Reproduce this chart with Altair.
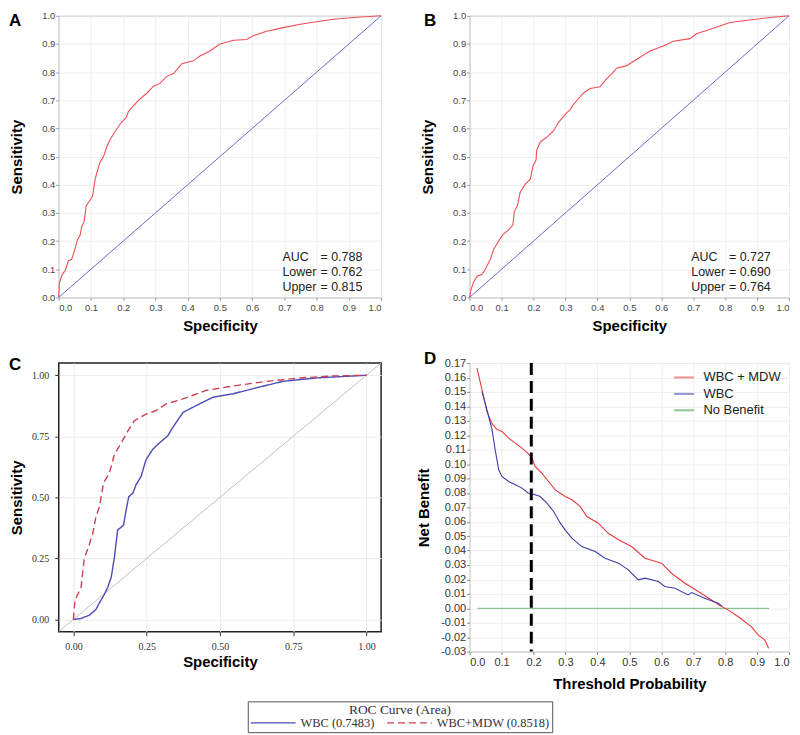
import altair as alt
import pandas as pd

# ---------------- Panel A data ----------------
A_X = [0, 0.002, 0.01, 0.02, 0.03, 0.04, 0.05, 0.058, 0.066, 0.071, 0.079, 0.085, 0.097, 0.105,
       0.113, 0.12, 0.128, 0.139, 0.149, 0.159, 0.175, 0.19, 0.21, 0.216, 0.232, 0.247, 0.273,
       0.294, 0.314, 0.335, 0.356, 0.382, 0.418, 0.438, 0.469, 0.50, 0.542, 0.583, 0.604, 0.645,
       0.697, 0.749, 0.79, 0.852, 0.914, 1.0]
A_Y = [0, 0.05, 0.08, 0.095, 0.13, 0.135, 0.17, 0.205, 0.22, 0.25, 0.27, 0.325, 0.345, 0.36,
       0.42, 0.45, 0.48, 0.50, 0.535, 0.56, 0.59, 0.615, 0.64, 0.66, 0.68, 0.70, 0.725,
       0.75, 0.76, 0.785, 0.795, 0.83, 0.84, 0.857, 0.875, 0.90, 0.913, 0.916, 0.93, 0.945,
       0.958, 0.97, 0.977, 0.988, 0.994, 1.0]
A_STATS = ["= 0.788", "= 0.762", "= 0.815"]

# ---------------- Panel B data ----------------
B_X = [0, 0.004, 0.0125, 0.023, 0.039, 0.049, 0.065, 0.075, 0.091, 0.104, 0.122, 0.135, 0.14,
       0.15, 0.158, 0.174, 0.19, 0.198, 0.208, 0.21, 0.221, 0.242, 0.263, 0.278, 0.299, 0.315,
       0.325, 0.356, 0.377, 0.408, 0.429, 0.445, 0.46, 0.492, 0.523, 0.565, 0.606, 0.638, 0.69,
       0.71, 0.763, 0.815, 0.877, 0.94, 1.0]
B_Y = [0, 0.027, 0.055, 0.075, 0.082, 0.10, 0.136, 0.17, 0.20, 0.223, 0.24, 0.257, 0.304,
       0.327, 0.373, 0.402, 0.42, 0.465, 0.488, 0.523, 0.552, 0.569, 0.592, 0.621, 0.65, 0.667,
       0.685, 0.725, 0.742, 0.748, 0.777, 0.794, 0.814, 0.823, 0.846, 0.875, 0.893, 0.91, 0.919,
       0.936, 0.956, 0.976, 0.985, 0.994, 1.0]
B_STATS = ["= 0.727", "= 0.690", "= 0.764"]

STAT_NAMES = ["AUC", "Lower", "Upper"]
STAT_Y = [0.142, 0.090, 0.038]
STAT_NAME_X = [0.694, 0.694, 0.694]
STAT_VAL_X = [0.812, 0.812, 0.812]
TICKS_AB = [0, 0.1, 0.2, 0.3, 0.4, 0.5, 0.6, 0.7, 0.8, 0.9, 1.0]
DIAG = [0, 1]

# ---------------- Panel C data ----------------
C_MDW_X = [0, 0.005, 0.015, 0.026, 0.037, 0.055, 0.066, 0.077, 0.089, 0.103, 0.123, 0.14, 0.157,
           0.186, 0.208, 0.248, 0.282, 0.317, 0.374, 0.453, 0.544, 0.658, 0.772, 0.886, 1.0]
C_MDW_Y = [0, 0.076, 0.103, 0.131, 0.248, 0.31, 0.352, 0.421, 0.462, 0.559, 0.60, 0.676, 0.71,
           0.772, 0.814, 0.841, 0.855, 0.883, 0.903, 0.938, 0.956, 0.975, 0.989, 0.997, 1.0]
C_WBC_X = [0, 0.026, 0.055, 0.077, 0.089, 0.103, 0.117, 0.129, 0.14, 0.151, 0.171, 0.18, 0.189,
           0.203, 0.214, 0.231, 0.248, 0.271, 0.288, 0.322, 0.339, 0.374, 0.408, 0.476, 0.544,
           0.636, 0.715, 0.829, 1.0]
C_WBC_Y = [0, 0.004, 0.018, 0.041, 0.069, 0.097, 0.131, 0.172, 0.255, 0.366, 0.386, 0.448, 0.503,
           0.517, 0.552, 0.586, 0.655, 0.697, 0.717, 0.752, 0.786, 0.848, 0.869, 0.91, 0.924,
           0.952, 0.975, 0.989, 1.0]
C_SERIES = ["WBC (0.7483)", "WBC+MDW (0.8518)"]
C_DIAG = [-0.05, 1.05]
TICKS_C = [0, 0.25, 0.5, 0.75, 1.0]

# ---------------- Panel D data ----------------
D_MDW_X = [0.023, 0.0385, 0.054, 0.07, 0.085, 0.101, 0.122, 0.143, 0.164, 0.184, 0.195, 0.205,
           0.226, 0.247, 0.268, 0.299, 0.32, 0.346, 0.367, 0.403, 0.434, 0.466, 0.507, 0.549,
           0.601, 0.632, 0.674, 0.716, 0.757, 0.789, 0.809, 0.84, 0.882, 0.903, 0.924, 0.936]
D_MDW_Y = [0.1665, 0.1515, 0.1365, 0.128, 0.124, 0.1226, 0.118, 0.1145, 0.111, 0.107, 0.104,
           0.0983, 0.0937, 0.0879, 0.0821, 0.0775, 0.0752, 0.0706, 0.0636, 0.059, 0.052, 0.0475,
           0.0428, 0.0347, 0.0313, 0.0243, 0.0174, 0.0116, 0.0058, 0.0012, -0.0011, -0.0057,
           -0.0127, -0.0184, -0.0219, -0.0277]
D_WBC_X = [0.0385, 0.054, 0.07, 0.08, 0.091, 0.101, 0.122, 0.143, 0.164, 0.184, 0.205, 0.221,
           0.242, 0.263, 0.284, 0.299, 0.32, 0.351, 0.393, 0.424, 0.466, 0.497, 0.528, 0.549,
           0.591, 0.611, 0.643, 0.684, 0.695, 0.736, 0.778, 0.79]
D_WBC_Y = [0.1503, 0.1377, 0.1238, 0.1099, 0.096, 0.0914, 0.0879, 0.0856, 0.0833, 0.0798,
           0.0787, 0.0775, 0.0729, 0.0671, 0.059, 0.0544, 0.0486, 0.0428, 0.0394, 0.0347,
           0.0313, 0.0266, 0.0197, 0.0209, 0.0186, 0.0151, 0.0139, 0.0093, 0.0109, 0.007,
           0.0035, 0.0015]
D_NONE_X = [0.025, 0.9375]
D_NONE_Y = [0.0, 0.0]
D_SERIES = ["WBC + MDW", "WBC", "No Benefit"]
D_THRESH = [0.193]
TICKS_DX = [0, 0.1, 0.2, 0.3, 0.4, 0.5, 0.6, 0.7, 0.8, 0.9, 1.0]
TICKS_DY = [round(-0.03 + 0.01 * k, 2) for k in range(21)]

SANS = "Liberation Sans"
SERIF = "Liberation Serif"


def letter(t, dx, dy):
    return alt.TitleParams(t, anchor="start", frame="group", orient="top", dx=dx, dy=dy,
                           offset=0, baseline="alphabetic", font=SANS, fontSize=17,
                           fontWeight="bold", color="#000")


def roc_panel(fx, fy, stats, title, dx, w, h, key):
    xs = alt.Scale(domain=[0, 1], nice=False, zero=False)
    ys = alt.Scale(domain=[0, 1], nice=False, zero=False)
    xaxis = alt.Axis(values=TICKS_AB, tickCount=40, format=".1f", labelFont=SANS,
                     labelFontSize=9.5, labelColor="#444", tickSize=3, tickColor="#999",
                     labelPadding=2, labelOverlap=False, domain=False, grid=True,
                     gridColor="#eeeeee", titleFont=SANS, titleFontSize=15,
                     titleFontWeight="bold", titleColor="#000", titlePadding=7)
    yaxis = alt.Axis(values=TICKS_AB, tickCount=40, format=".1f", labelFont=SANS,
                     labelFontSize=9.5, labelColor="#444", tickSize=3, tickColor="#999",
                     labelPadding=1, labelOverlap=False, domain=False, grid=True,
                     gridColor="#eeeeee", titleFont=SANS, titleFontSize=15,
                     titleFontWeight="bold", titleColor="#000", titlePadding=17)
    df = pd.DataFrame({key + "x": fx, key + "y": fy, "i": list(range(len(fx)))})
    diag = alt.Chart(pd.DataFrame({key + "x": DIAG, key + "y": DIAG})).mark_line(
        color="#6b6bcc", strokeWidth=1).encode(
        x=alt.X(key + "x:Q", scale=xs, axis=xaxis, title="Specificity"),
        y=alt.Y(key + "y:Q", scale=ys, axis=yaxis, title="Sensitivity"))
    curve = alt.Chart(df).mark_line(color="#ef4f55", strokeWidth=1.1).encode(
        x=key + "x:Q", y=key + "y:Q", order="i:Q")
    tdf = pd.DataFrame({"n": STAT_NAMES, "v": stats, key + "y": STAT_Y,
                        key + "x": STAT_NAME_X, "vx": STAT_VAL_X})
    t1 = alt.Chart(tdf).mark_text(align="left", baseline="middle", font=SANS, fontSize=12.5,
                                  color="#222").encode(x=key + "x:Q", y=key + "y:Q", text="n:N")
    t2 = alt.Chart(tdf).mark_text(align="left", baseline="middle", font=SANS, fontSize=12.5,
                                  color="#222").encode(x="vx:Q", y=key + "y:Q", text="v:N")
    return alt.layer(diag, curve, t1, t2).properties(
        width=w, height=h, title=letter(title, dx, 32),
        view=alt.ViewBackground(stroke="#888", strokeWidth=1))


panel_a = roc_panel(A_X, A_Y, A_STATS, "A", -50, 324, 283, "a")
panel_b = roc_panel(B_X, B_Y, B_STATS, "B", -46, 321, 283, "b")

# ---------------- Panel C ----------------
cxs = alt.Scale(domain=[-0.05, 1.05], nice=False, zero=False)
cys = alt.Scale(domain=[-0.05, 1.05], nice=False, zero=False)
c_axis_common = dict(values=TICKS_C, tickCount=40, format=".2f", labelFont=SERIF,
                     labelFontSize=10, labelColor="#333", tickSize=4, tickColor="#333",
                     labelOverlap=False, domain=False, grid=True, gridColor="#ebebeb",
                     titleFont=SANS, titleFontSize=15, titleFontWeight="bold",
                     titleColor="#000")
c_df = pd.DataFrame({
    "cx": C_WBC_X + C_MDW_X,
    "cy": C_WBC_Y + C_MDW_Y,
    "s": [C_SERIES[0]] * len(C_WBC_X) + [C_SERIES[1]] * len(C_MDW_X),
    "i": list(range(len(C_WBC_X))) + list(range(len(C_MDW_X))),
})
c_legend = alt.Legend(orient="none", legendX=190, legendY=340, direction="horizontal",
                      title="ROC Curve (Area)", titleFont=SERIF, titleFontSize=13.5,
                      titleFontWeight="normal", titleColor="#333", titleAnchor="middle",
                      titlePadding=-1, labelFont=SERIF, labelFontSize=12.5, labelColor="#333",
                      symbolType="M-1,0H6.5", symbolSize=144, symbolStrokeWidth=1.3,
                      strokeColor="#555", padding=2, columnPadding=9, labelOffset=37)
c_diag = alt.Chart(pd.DataFrame({"cx": C_DIAG, "cy": C_DIAG})).mark_line(
    color="#bdbdbd", strokeWidth=1, clip=True).encode(
    x=alt.X("cx:Q", scale=cxs, axis=alt.Axis(labelPadding=6, titlePadding=3, **c_axis_common),
            title="Specificity"),
    y=alt.Y("cy:Q", scale=cys, axis=alt.Axis(labelPadding=6, titlePadding=7, **c_axis_common),
            title="Sensitivity"))
c_lines = alt.Chart(c_df).mark_line(strokeWidth=1.4).encode(
    x="cx:Q", y="cy:Q", detail="s:N", order="i:Q",
    color=alt.Color("s:N", scale=alt.Scale(domain=C_SERIES, range=["#4b4bb5", "#cc4050"]),
                    legend=c_legend),
    strokeDash=alt.StrokeDash("s:N", scale=alt.Scale(domain=C_SERIES, range=[[1, 0], [7, 4]]),
                              legend=c_legend))
panel_c = alt.layer(c_diag, c_lines).properties(
    width=324, height=270, title=letter("C", -50, 24),
    view=alt.ViewBackground(stroke="#222", strokeWidth=1.5))

# ---------------- Panel D ----------------
dxs = alt.Scale(domain=[0, 1], nice=False, zero=False)
dys = alt.Scale(domain=[-0.03, 0.17], nice=False, zero=False)
d_df = pd.DataFrame({
    "dx": D_MDW_X + D_WBC_X,
    "dy": D_MDW_Y + D_WBC_Y,
    "g": [D_SERIES[0]] * len(D_MDW_X) + [D_SERIES[1]] * len(D_WBC_X),
    "i": list(range(len(D_MDW_X))) + list(range(len(D_WBC_X))),
})
d_color_scale = alt.Scale(domain=D_SERIES, range=["#e8383d", "#3c3ca8", "#2e9a3a"])
d_legend = alt.Legend(orient="none", legendX=209, legendY=8, labelFont=SANS, labelFontSize=13,
                      labelColor="#222", symbolType="M-2,0H2", symbolSize=100,
                      symbolStrokeWidth=2, rowPadding=2.5, labelOffset=13, padding=0)
d_none = alt.Chart(pd.DataFrame({"dx": D_NONE_X, "dy": D_NONE_Y,
                                 "g": [D_SERIES[2]] * 2})).mark_line(
    strokeWidth=1.3, opacity=0.55).encode(
    x=alt.X("dx:Q", scale=dxs, title="Threshold Probability",
            axis=alt.Axis(values=TICKS_DX, tickCount=40, format=".1f", labelFont=SANS,
                          labelFontSize=11, labelColor="#333", tickSize=3, tickColor="#888",
                          labelPadding=2, labelOverlap=False, domain=False, grid=True,
                          gridColor="#eeeeee", titleFont=SANS, titleFontSize=15,
                          titleFontWeight="bold", titleColor="#000", titlePadding=9)),
    y=alt.Y("dy:Q", scale=dys, title="Net Benefit",
            axis=alt.Axis(values=TICKS_DY, tickCount=40,
                          labelExpr="(datum.value < -0.000001 ? '-' : '') + format(abs(datum.value), '.2f')",
                          labelFont=SANS, labelFontSize=11, labelColor="#333", tickSize=3,
                          tickColor="#888", labelPadding=1, labelOverlap=False, domain=False,
                          grid=True, gridColor="#eeeeee", titleFont=SANS, titleFontSize=15,
                          titleFontWeight="bold", titleColor="#000", titlePadding=9)),
    color=alt.Color("g:N", scale=d_color_scale, legend=d_legend, title=None))
d_lines = alt.Chart(d_df).mark_line(strokeWidth=1.1).encode(
    x="dx:Q", y="dy:Q", detail="g:N", order="i:Q",
    color=alt.Color("g:N", scale=d_color_scale, legend=d_legend, title=None))
d_rule = alt.Chart(pd.DataFrame({"dt": D_THRESH})).mark_rule(
    color="#000", strokeWidth=3, strokeDash=[12, 6]).encode(x="dt:Q")
panel_d = alt.layer(d_none, d_lines, d_rule).properties(
    width=321, height=290, title=letter("D", -46, 24),
    view=alt.ViewBackground(stroke="#999", strokeWidth=1))

chart = alt.concat(panel_a, panel_b, panel_c, panel_d, columns=2,
                   spacing={"row": 66, "column": 89}, bounds="flush").resolve_scale(
    color="independent", strokeDash="independent", x="independent", y="independent"
).resolve_legend(color="independent", strokeDash="independent").properties(
    padding=0, background="white").configure_axis(labelOverlap=False)

chart.save("out.html", embed_options={"renderer": "svg", "actions": False})
